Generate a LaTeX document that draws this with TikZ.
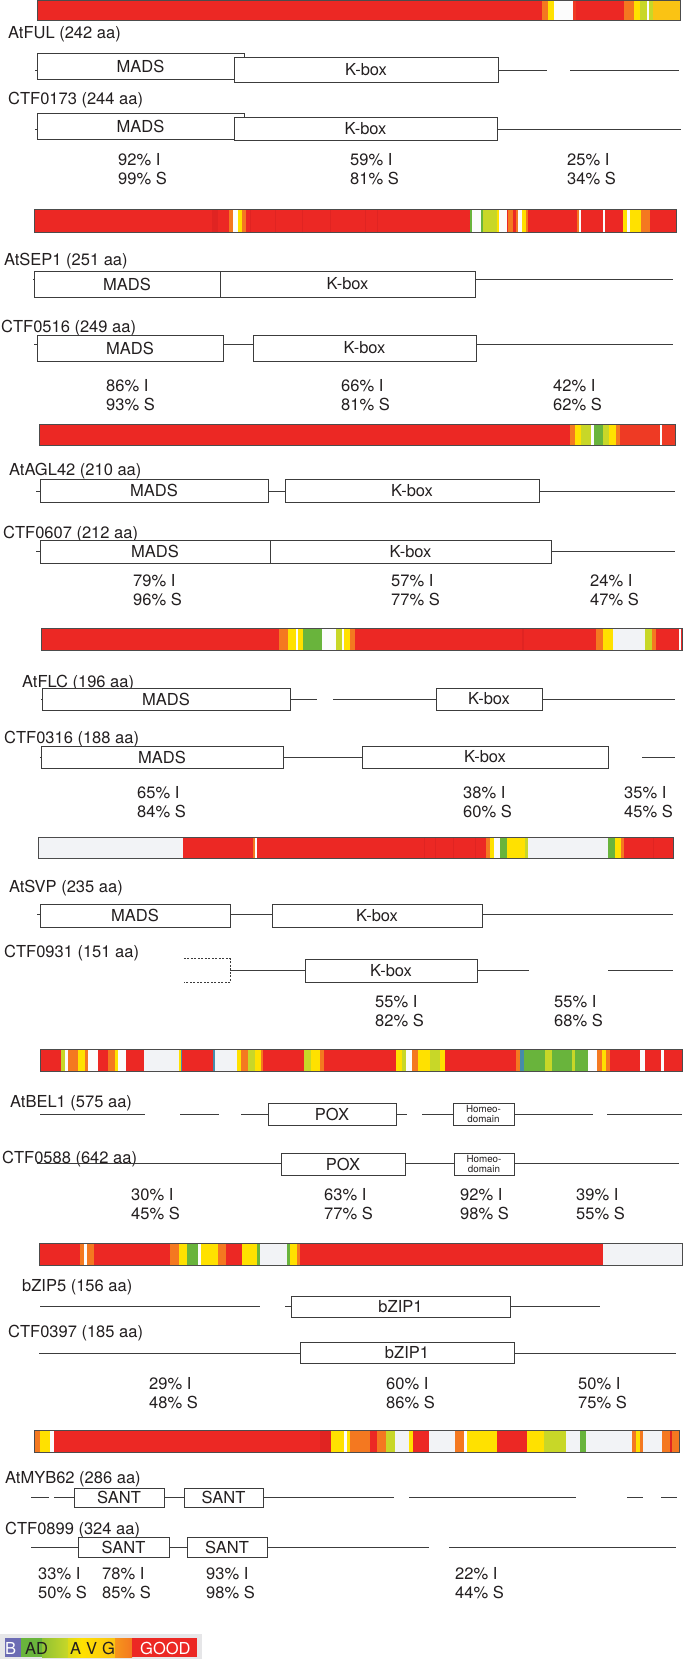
\documentclass[tikz,border=0pt]{standalone}
\usepackage{fontspec}
\setmainfont{TeX Gyre Heros}
\definecolor{cR}{RGB}{236,40,36}
\definecolor{cDR}{RGB}{224,36,34}
\definecolor{cOR}{RGB}{238,58,36}
\definecolor{cO}{RGB}{244,120,32}
\definecolor{cY}{RGB}{255,225,0}
\definecolor{cGo}{RGB}{250,195,20}
\definecolor{cYG}{RGB}{200,215,40}
\definecolor{cG}{RGB}{105,180,60}
\definecolor{cW}{RGB}{252,252,252}
\definecolor{cGr}{RGB}{242,243,246}
\definecolor{cBl}{RGB}{70,140,170}
\definecolor{cPu}{RGB}{108,108,180}
\definecolor{lnc}{RGB}{60,60,60}
\definecolor{txc}{RGB}{35,31,32}
\definecolor{lgbg}{RGB}{230,230,232}
\newcommand{\labfont}{\fontsize{16.5}{19}\selectfont}
\newcommand{\smallfont}{\fontsize{9.8}{10.2}\selectfont}
\newcommand{\bs}[3]{\fill[#3] (#1,\bt) rectangle (#2,\bb);}
\newcommand{\dbox}[6]{\node[dom, minimum width={(#4-#2)*1pt}, minimum height={(#5-#3)*1pt}] (#1) at ({(#2+#4)/2},{(#3+#5)/2}) {#6};}
\newcommand{\pctpair}[5]{\node[lab] (#1a) at (#2,#3) {#4}; \node[lab] (#1b) at (#2,#3+19) {#5};}
\tikzset{
  dom/.style={draw=lnc, line width=0.9pt, fill=white, inner sep=0pt, font=\labfont, text=txc},
  bbone/.style={draw=lnc, line width=0.9pt},
  lab/.style={anchor=base west, inner sep=0pt, font=\labfont, text=txc},
  barline/.style={draw=black!70, line width=1pt},
}
\begin{document}
\begin{tikzpicture}[x=1pt,y=-1pt]
\useasboundingbox (0,0) rectangle (683,1659);
\fill[white] (0,0) rectangle (683,1659);

% ---------- Bar 1
\def\bt{1}\def\bb{21}
\fill[cR] (37,\bt) rectangle (680,\bb);
\bs{542}{548}{cO}\bs{548}{554}{cY}\bs{554}{573}{cW}\bs{573}{576}{cOR}
\bs{624}{634}{cO}\bs{634}{640}{cY}\bs{640}{647}{cYG}\bs{647}{649}{cW}\bs{649}{653}{cYG}\bs{653}{680}{cGo}
\draw[barline] (37,\bt) rectangle (680,\bb);

\node[lab] (l1) at (8,39) {AtFUL (242 aa)};
\draw[bbone] (35,70) -- (547,70);
\draw[bbone] (570,70) -- (679,70);
\dbox{mads1}{37}{53}{244}{79}{MADS}
\dbox{kbox1}{234}{57}{498}{82}{K-box}

\node[lab] (l2) at (8,105) {CTF0173 (244 aa)};
\draw[bbone] (35,129) -- (681,129);
\dbox{mads2}{37}{113}{244}{139}{MADS}
\dbox{kbox2}{234}{117}{497}{140}{K-box}

\pctpair{p11}{118}{165}{92\% I}{99\% S}
\pctpair{p12}{350}{165}{59\% I}{81\% S}
\pctpair{p13}{567}{165}{25\% I}{34\% S}

% ---------- Bar 2
\def\bt{209}\def\bb{232}
\fill[cR] (34,\bt) rectangle (676,\bb);
\bs{212}{218}{cDR}\bs{250}{251}{cDR}\bs{275}{276}{cDR}\bs{302}{303}{cDR}\bs{330}{331}{cDR}\bs{365}{366}{cDR}\bs{377}{378}{cDR}
\bs{229}{233}{cO}\bs{233}{238}{cW}\bs{238}{242}{cY}\bs{242}{246}{cO}
\bs{470}{472}{cG}\bs{472}{481}{cW}\bs{481}{483}{cG}\bs{483}{497}{cYG}\bs{497}{499}{cY}\bs{499}{507}{cW}\bs{508}{513}{cO}\bs{516}{518}{cO}\bs{518}{522}{cW}\bs{522}{526}{cY}\bs{526}{528}{cO}
\bs{577}{579}{cO}\bs{579}{581}{cW}\bs{603}{605}{cW}
\bs{623}{627}{cY}\bs{627}{630}{cW}\bs{630}{641}{cY}\bs{641}{650}{cO}
\draw[barline] (34,\bt) rectangle (676,\bb);

\node[lab] (l3) at (4,265) {AtSEP1 (251 aa)};
\draw[bbone] (33,279) -- (673,279);
\dbox{mads3}{34}{271}{220}{297}{MADS}
\dbox{kbox3}{220}{271}{475}{297}{K-box}

\node[lab] (l4) at (1,332) {CTF0516 (249 aa)};
\draw[bbone] (34,344) -- (673,344);
\dbox{mads4}{37}{335}{223}{361}{MADS}
\dbox{kbox4}{253}{335}{476}{361}{K-box}

\pctpair{p21}{106}{391}{86\% I}{93\% S}
\pctpair{p22}{341}{391}{66\% I}{81\% S}
\pctpair{p23}{553}{391}{42\% I}{62\% S}

% ---------- Bar 3
\def\bt{424}\def\bb{445}
\fill[cR] (39,\bt) rectangle (675,\bb);
\bs{570}{575}{cO}\bs{575}{581}{cY}\bs{581}{591}{cYG}\bs{591}{594}{cW}\bs{594}{603}{cG}\bs{603}{609}{cYG}\bs{609}{616}{cY}\bs{616}{620}{cO}\bs{620}{660}{cOR}\bs{660}{662}{cW}\bs{662}{675}{cOR}
\draw[barline] (39,\bt) rectangle (675,\bb);

\node[lab] (l5) at (9,475) {AtAGL42 (210 aa)};
\draw[bbone] (36,491) -- (675,491);
\dbox{mads5}{40}{479}{268}{502}{MADS}
\dbox{kbox5}{285}{479}{539}{502}{K-box}

\node[lab] (l6) at (3,538) {CTF0607 (212 aa)};
\draw[bbone] (36,551) -- (675,551);
\dbox{mads6}{40}{540}{270}{563}{MADS}
\dbox{kbox6}{270}{540}{551}{563}{K-box}

\pctpair{p31}{133}{586}{79\% I}{96\% S}
\pctpair{p32}{391}{586}{57\% I}{77\% S}
\pctpair{p33}{590}{586}{24\% I}{47\% S}

% ---------- Bar 4
\def\bt{628}\def\bb{650}
\fill[cR] (41,\bt) rectangle (682,\bb);
\bs{279}{288}{cO}\bs{288}{296}{cY}\bs{296}{298}{cW}\bs{298}{303}{cY}\bs{303}{322}{cG}\bs{322}{336}{cW}\bs{336}{342}{cYG}\bs{342}{344}{cW}\bs{344}{350}{cY}\bs{350}{355}{cO}
\bs{522}{524}{cDR}
\bs{596}{603}{cO}\bs{603}{613}{cY}\bs{613}{645}{cGr}\bs{645}{652}{cYG}\bs{652}{656}{cO}\bs{679}{681}{cW}
\draw[barline] (41,\bt) rectangle (682,\bb);

\node[lab] (l7) at (22,687) {AtFLC (196 aa)};
\draw[bbone] (41,699) -- (317,699);
\draw[bbone] (333,699) -- (675,699);
\dbox{mads7}{42}{688}{290}{710}{MADS}
\dbox{kbox7}{436}{688}{542}{710}{K-box}

\node[lab] (l8) at (4,743) {CTF0316 (188 aa)};
\draw[bbone] (40,757) -- (608,757);
\draw[bbone] (642,757) -- (675,757);
\dbox{mads8}{41}{746}{283}{768}{MADS}
\dbox{kbox8}{362}{746}{608}{768}{K-box}

\pctpair{p41}{137}{798}{65\% I}{84\% S}
\pctpair{p42}{463}{798}{38\% I}{60\% S}
\pctpair{p43}{624}{798}{35\% I}{45\% S}

% ---------- Bar 5
\def\bt{837}\def\bb{858}
\fill[cR] (38,\bt) rectangle (673,\bb);
\bs{38}{183}{cGr}
\bs{253}{255}{cO}\bs{255}{257}{cW}
\bs{424}{425}{cDR}\bs{435}{436}{cDR}\bs{453}{454}{cDR}\bs{475}{476}{cDR}
\bs{486}{490}{cO}\bs{490}{494}{cY}\bs{494}{500}{cW}\bs{500}{507}{cG}\bs{507}{525}{cY}\bs{525}{528}{cYG}\bs{528}{608}{cGr}\bs{608}{615}{cG}\bs{615}{621}{cY}\bs{621}{624}{cO}
\bs{653}{654}{cDR}
\draw[barline] (38,\bt) rectangle (673,\bb);

\node[lab] (l9) at (9,892) {AtSVP (235 aa)};
\draw[bbone] (37,914) -- (673,914);
\dbox{mads9}{40}{904}{230}{927}{MADS}
\dbox{kbox9}{272}{904}{482}{927}{K-box}

\node[lab] (l10) at (4,957) {CTF0931 (151 aa)};
\draw[bbone] (230,970) -- (529,970);
\draw[bbone] (608,970) -- (673,970);
\node[inner sep=0pt, minimum width=46pt, minimum height=23pt] (dash10) at (207,970.5) {};
\draw[lnc, line width=0.9pt, dash pattern=on 2pt off 1.5pt] (dash10.north west) -- (dash10.north east) -- (dash10.south east) -- (dash10.south west);
\dbox{kbox10}{305}{959}{477}{982}{K-box}

\pctpair{p51}{375}{1007}{55\% I}{82\% S}
\pctpair{p52}{554}{1007}{55\% I}{68\% S}

% ---------- Bar 6
\def\bt{1049}\def\bb{1071}
\fill[cR] (40,\bt) rectangle (682,\bb);
\bs{61}{65}{cYG}\bs{65}{68}{cW}\bs{68}{78}{cO}\bs{78}{85}{cY}\bs{85}{88}{cO}\bs{88}{98}{cW}\bs{108}{115}{cO}\bs{115}{118}{cY}\bs{118}{126}{cW}
\bs{144}{179}{cGr}\bs{179}{181}{cY}\bs{181}{182}{cBl}\bs{213}{215}{cBl}\bs{215}{237}{cGr}\bs{237}{241}{cY}\bs{241}{248}{cO}\bs{248}{255}{cYG}\bs{255}{261}{cY}\bs{261}{263}{cO}
\bs{304}{311}{cYG}\bs{311}{320}{cY}\bs{320}{324}{cO}
\bs{396}{402}{cY}\bs{402}{406}{cYG}\bs{406}{412}{cW}\bs{412}{418}{cO}\bs{418}{430}{cY}\bs{430}{440}{cYG}\bs{440}{445}{cY}
\bs{516}{520}{cO}\bs{520}{524}{cBl}\bs{524}{545}{cG}\bs{545}{552}{cYG}\bs{552}{572}{cG}\bs{572}{575}{cYG}\bs{575}{588}{cG}\bs{588}{597}{cW}\bs{597}{602}{cO}\bs{602}{606}{cY}\bs{606}{610}{cO}
\bs{640}{645}{cW}\bs{661}{664}{cW}
\draw[barline] (40,\bt) rectangle (682,\bb);

\node[lab] (l11) at (10,1107) {AtBEL1 (575 aa)};
\draw[bbone] (40,1114) -- (145,1114);
\draw[bbone] (180,1114) -- (219,1114);
\draw[bbone] (241,1114) -- (407,1114);
\draw[bbone] (422,1114) -- (593,1114);
\draw[bbone] (607,1114) -- (682,1114);
\dbox{pox11}{268}{1103}{396}{1125}{POX}
\node[dom, minimum width=61pt, minimum height=22pt, font=\smallfont, align=center] (hd11) at (483.5,1114) {Homeo-\\domain};

\node[lab] (l12) at (2,1163) {CTF0588 (642 aa)};
\draw[bbone] (37,1163) -- (679,1163);
\dbox{pox12}{281}{1153}{405}{1175}{POX}
\node[dom, minimum width=60pt, minimum height=22pt, font=\smallfont, align=center] (hd12) at (484,1164) {Homeo-\\domain};

\pctpair{p61}{131}{1200}{30\% I}{45\% S}
\pctpair{p62}{324}{1200}{63\% I}{77\% S}
\pctpair{p63}{460}{1200}{92\% I}{98\% S}
\pctpair{p64}{576}{1200}{39\% I}{55\% S}

% ---------- Bar 7
\def\bt{1243}\def\bb{1265}
\fill[cR] (39,\bt) rectangle (682,\bb);
\bs{80}{84}{cO}\bs{84}{87}{cW}\bs{87}{94}{cO}\bs{170}{179}{cO}\bs{179}{187}{cY}\bs{187}{198}{cG}\bs{198}{201}{cW}\bs{201}{218}{cY}\bs{218}{226}{cO}
\bs{242}{257}{cY}\bs{257}{260}{cG}\bs{260}{287}{cGr}\bs{287}{290}{cG}\bs{290}{297}{cY}\bs{297}{300}{cO}\bs{603}{682}{cGr}
\draw[barline] (39,\bt) rectangle (682,\bb);

\node[lab] (l13) at (22,1291) {bZIP5 (156 aa)};
\draw[bbone] (40,1306) -- (260,1306);
\draw[bbone] (285,1306) -- (600,1306);
\dbox{bz13}{291}{1296}{510}{1317}{bZIP1}

\node[lab] (l14) at (8,1337) {CTF0397 (185 aa)};
\draw[bbone] (39,1353) -- (676,1353);
\dbox{bz14}{300}{1342}{514}{1363}{bZIP1}

\pctpair{p71}{149}{1389}{29\% I}{48\% S}
\pctpair{p72}{386}{1389}{60\% I}{86\% S}
\pctpair{p73}{578}{1389}{50\% I}{75\% S}

% ---------- Bar 8
\def\bt{1430}\def\bb{1452}
\fill[cR] (34,\bt) rectangle (679,\bb);
\bs{34}{40}{cO}\bs{40}{50}{cY}\bs{50}{54}{cW}\bs{320}{331}{cDR}\bs{331}{344}{cY}\bs{344}{347}{cW}\bs{347}{350}{cY}\bs{350}{370}{cO}\bs{377}{386}{cO}\bs{386}{395}{cYG}
\bs{395}{409}{cGr}\bs{409}{413}{cY}\bs{429}{455}{cGr}\bs{455}{464}{cO}\bs{464}{467}{cW}\bs{467}{497}{cY}\bs{527}{544}{cY}\bs{544}{566}{cYG}\bs{566}{580}{cGr}\bs{580}{586}{cG}\bs{586}{632}{cGr}
\bs{632}{636}{cO}\bs{636}{640}{cY}\bs{640}{643}{cO}\bs{643}{662}{cGr}\bs{662}{679}{cO}\bs{670}{672}{cDR}
\draw[barline] (34,\bt) rectangle (679,\bb);

\node[lab] (l15) at (5,1483) {AtMYB62 (286 aa)};
\draw[bbone] (31,1497) -- (49,1497);
\draw[bbone] (54,1497) -- (394,1497);
\draw[bbone] (409,1497) -- (576,1497);
\draw[bbone] (627,1497) -- (643,1497);
\draw[bbone] (661,1497) -- (677,1497);
\dbox{s15a}{74}{1488}{164}{1507}{SANT}
\dbox{s15b}{184}{1488}{263}{1507}{SANT}

\node[lab] (l16) at (5,1534) {CTF0899 (324 aa)};
\draw[bbone] (31,1547) -- (429,1547);
\draw[bbone] (449,1547) -- (676,1547);
\dbox{s16a}{78}{1537}{169}{1557}{SANT}
\dbox{s16b}{187}{1537}{267}{1557}{SANT}

\pctpair{p81}{38}{1579}{33\% I}{50\% S}
\pctpair{p82}{102}{1579}{78\% I}{85\% S}
\pctpair{p83}{206}{1579}{93\% I}{98\% S}
\pctpair{p84}{455}{1579}{22\% I}{44\% S}

% ---------- Legend
\fill[lgbg] (0,1634) rectangle (202,1659);
\def\bt{1638}\def\bb{1657}
\bs{5}{21}{cPu}
\bs{21}{42}{cG}
\fill[left color=cG!60!cYG, right color=cYG] (42,\bt) rectangle (68,\bb);
\fill[left color=cYG!60!cY, right color=cY] (68,\bt) rectangle (82,\bb);
\fill[left color=cY, right color=cGo] (82,\bt) rectangle (115,\bb);
\fill[left color=cGo!40!cO, right color=cO] (115,\bt) rectangle (132,\bb);
\bs{132}{197}{cR}
\node[lab, text=white] (lgB) at (5,1654) {B};
\node[lab] (lgAD) at (25,1654) {AD};
\node[lab] (lgA) at (70,1654) {A};
\node[lab] (lgV) at (86,1654) {V};
\node[lab] (lgG) at (102,1654) {G};
\node[lab, text=white] (lgGOOD) at (140,1654) {GOOD};
\end{tikzpicture}
\end{document}
